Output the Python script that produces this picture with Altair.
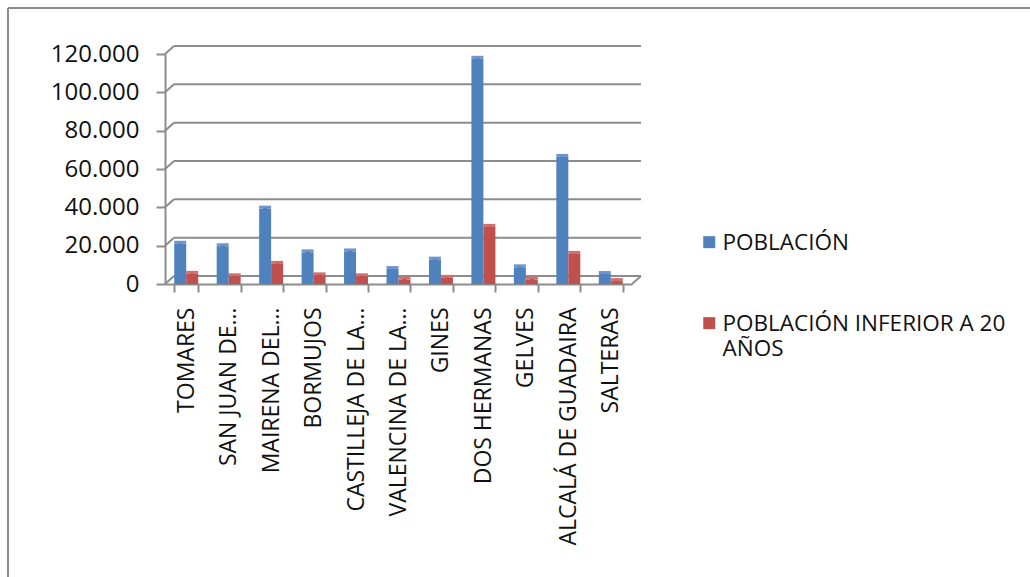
import altair as alt
import pandas as pd

# Municipios y valores de población
municipios = [
    "TOMARES", "SAN JUAN DE…", "MAIRENA DEL…", "BORMUJOS", "CASTILLEJA DE LA…",
    "VALENCINA DE LA…", "GINES", "DOS HERMANAS", "GELVES", "ALCALÁ DE GUADAIRA", "SALTERAS",
]
poblacion = [21000, 19700, 39300, 16500, 17000, 7800, 12700, 117500, 8700, 66300, 5200]
menores_20 = [5300, 4000, 10500, 4500, 4000, 2300, 3200, 29800, 2300, 15700, 1500]
series = ["POBLACIÓN", "POBLACIÓN INFERIOR A 20 AÑOS"]
marcas_y = [0, 20000, 40000, 60000, 80000, 100000, 120000]

rows = []
for m, p, j in zip(municipios, poblacion, menores_20):
    rows.append({"municipio": m, "serie": series[0], "valor": p})
    rows.append({"municipio": m, "serie": series[1], "valor": j})
df = pd.DataFrame(rows)
grid_df = pd.DataFrame({"valor": marcas_y})

W, H = 467, 230
DX, DY = 9, -8          # desplazamiento de la pared del fondo
GRAY = "#8c8c8c"
FONT = "Open Sans"
FRONT = ["#4f81bd", "#c0504d"]
SIDE = ["#36598a", "#8b3431"]
TOP = ["#6f96cc", "#d0706d"]

x_enc = alt.X(
    "municipio:N", sort=municipios,
    scale=alt.Scale(paddingInner=0.435, paddingOuter=0.2175),
    axis=alt.Axis(
        title=None, labelAngle=-90, labelFontSize=23, labelFont=FONT,
        labelColor="#111111", labelPadding=15, tickBand="extent", tickSize=8,
        tickColor=GRAY, tickWidth=2, domainColor=GRAY, domainWidth=2,
        labelLimit=400, grid=False,
    ),
)
y_scale = alt.Scale(domain=[0, 120000], nice=False)
y_axis = alt.Axis(
    title=None, values=marcas_y, labelFontSize=24, labelFont=FONT,
    labelColor="#111111", labelPadding=17, tickSize=9, tickColor=GRAY,
    tickWidth=2, domainColor=GRAY, domainWidth=2, grid=False,
    labelExpr="replace(format(datum.value, ','), ',', '.')",
)
y_enc = alt.Y("valor:Q", scale=y_scale, axis=y_axis)
xo = alt.XOffset("serie:N", sort=series)

# Pared del fondo: líneas de cuadrícula desplazadas
grid = alt.Chart(grid_df).mark_rule(color=GRAY, strokeWidth=2, yOffset=DY).encode(
    y=y_enc, x=alt.value(DX), x2=alt.value(W + DX),
)
conectores = alt.Chart(grid_df).mark_rule(color=GRAY, strokeWidth=2, y2Offset=DY).encode(
    y=y_enc, y2="valor:Q", x=alt.value(0), x2=alt.value(DX),
)
suelo_dcha = alt.Chart(grid_df).transform_filter("datum.valor == 0").mark_rule(
    color=GRAY, strokeWidth=2, y2Offset=DY
).encode(
    y=y_enc, y2="valor:Q", x=alt.value(W), x2=alt.value(W + DX),
)

base = alt.Chart(df)
lados = base.mark_bar(width=4, xOffset=11, yOffset=-2, y2Offset=-2).encode(
    x=x_enc, xOffset=xo, y=y_enc,
    color=alt.Color("serie:N", scale=alt.Scale(domain=series, range=SIDE), legend=None),
)
tapas = base.mark_bar(xOffset=5, y2Offset=-3).encode(
    x=x_enc, xOffset=xo, y=y_enc, y2="valor:Q",
    color=alt.Color("serie:N", scale=alt.Scale(domain=series, range=TOP), legend=None),
)
frentes = base.mark_bar(xOffset=3).encode(
    x=x_enc, xOffset=xo, y=y_enc,
    color=alt.Color(
        "serie:N", scale=alt.Scale(domain=series, range=FRONT),
        legend=alt.Legend(
            title=None, orient="none", legendX=533, legendY=167,
            # cuadrado desplazado hacia abajo para alinearse con la primera línea
            symbolType="M-1,0.65H1V2.65H-1Z", symbolSize=144, symbolStrokeWidth=0,
            labelFontSize=22.5, labelFont=FONT, labelColor="#111111",
            labelBaseline="top", labelOffset=2, rowPadding=47, labelLimit=400,
            labelExpr="datum.label == 'POBLACIÓN INFERIOR A 20 AÑOS' ? ['POBLACIÓN INFERIOR A 20', 'AÑOS'] : datum.label",
        ),
    ),
)

# Marco exterior
marco_sup = alt.Chart(grid_df).transform_filter("datum.valor == 0").mark_rule(
    color=GRAY, strokeWidth=2
).encode(x=alt.value(-157), x2=alt.value(900), y=alt.value(-46))
marco_izq = alt.Chart(grid_df).transform_filter("datum.valor == 0").mark_rule(
    color=GRAY, strokeWidth=2
).encode(x=alt.value(-157), y=alt.value(-46), y2=alt.value(600))

chart = alt.layer(
    marco_sup, marco_izq, grid, conectores, suelo_dcha, lados, tapas, frentes
).resolve_scale(color="independent").properties(
    width=W, height=H,
    autosize=alt.AutoSizeParams(type="none"),
    padding={"left": 165, "top": 54, "right": 398, "bottom": 293},
    background="white",
).configure_view(stroke=None)

chart.save("out.html", embed_options={"renderer": "svg", "actions": False})
